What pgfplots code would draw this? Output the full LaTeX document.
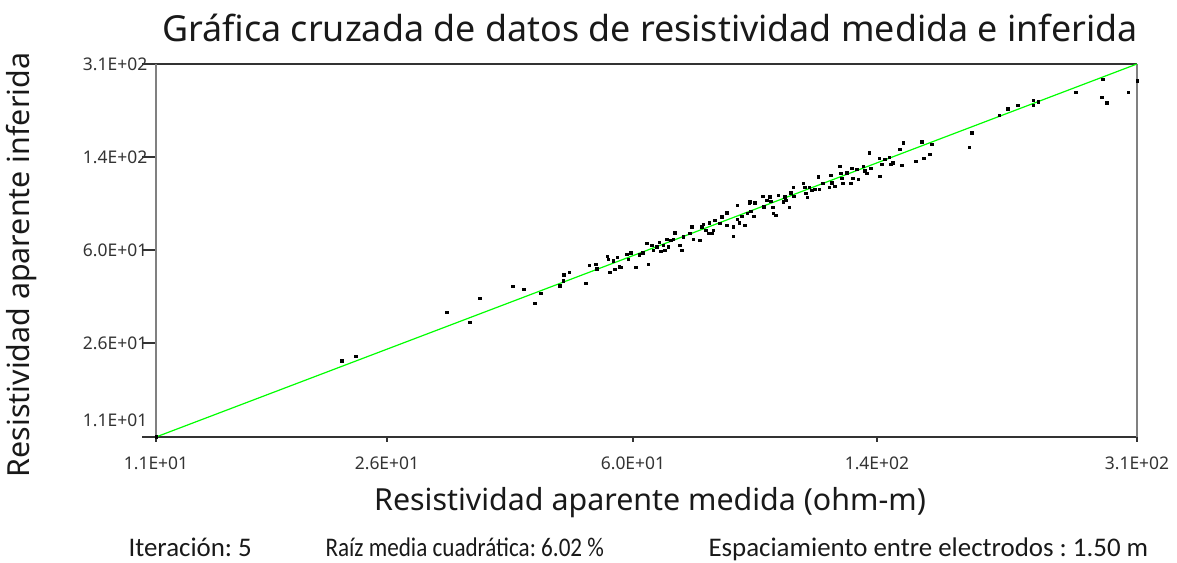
\documentclass[border=0pt]{standalone}
\usepackage{pgfplots}
\pgfplotsset{compat=1.18}
\usepackage{pgfplotstable}
\usepackage{fontspec}
\setmainfont{Noto Sans}
\newfontfamily\calib{Carlito}
\frenchspacing
\definecolor{fitgreen}{RGB}{0,255,0}
\definecolor{axgray}{RGB}{128,128,128}
\definecolor{axdark}{RGB}{51,51,51}
% log10 of apparent resistivity (ohm-m): measured (lx), inferred (ly)
\pgfplotstableread{
lx ly
1.0414 1.0414
1.3158 1.3380
1.3370 1.3562
1.4715 1.5273
1.5055 1.4884
1.5202 1.5817
1.5686 1.6283
1.5853 1.6155
1.6015 1.5622
1.6100 1.5999
1.6385 1.6295
1.6434 1.6489
1.6444 1.6722
1.6522 1.6816
1.6769 1.6388
1.6818 1.7088
1.6917 1.7138
1.6927 1.6956
1.7084 1.7449
1.7099 1.7321
1.7124 1.6827
1.7173 1.7267
1.7198 1.6932
1.7232 1.7399
1.7261 1.7033
1.7291 1.7010
1.7371 1.7527
1.7394 1.7321
1.7430 1.7578
1.7508 1.7010
1.7557 1.7500
1.7607 1.7578
1.7666 1.7943
1.7690 1.7138
1.7740 1.7865
1.7764 1.7683
1.7814 1.7811
1.7852 1.7994
1.7873 1.7632
1.7912 1.7865
1.7937 1.7683
1.7962 1.8098
1.7985 1.7811
1.8021 1.8071
1.8059 1.8098
1.8084 1.8355
1.8158 1.7865
1.8183 1.7683
1.8207 1.8199
1.8306 1.8332
1.8331 1.8588
1.8355 1.8098
1.8454 1.8071
1.8479 1.8588
1.8503 1.8693
1.8543 1.8460
1.8577 1.8332
1.8591 1.8744
1.8627 1.8332
1.8651 1.8460
1.8676 1.8849
1.8750 1.8720
1.8775 1.8977
1.8849 1.9132
1.8849 1.8654
1.8946 1.8227
1.8946 1.8588
1.9005 1.8876
1.9005 1.9432
1.9035 1.8744
1.9070 1.9004
1.9119 1.8654
1.9153 1.9109
1.9183 1.9521
1.9208 1.9198
1.9252 1.9004
1.9193 1.9560
1.9267 1.9521
1.9381 1.9782
1.9400 1.9366
1.9440 1.9626
1.9489 1.9754
1.9499 1.9587
1.9529 1.9342
1.9537 1.9109
1.9577 1.9043
1.9611 1.9820
1.9685 1.9560
1.9710 1.9754
1.9725 1.9626
1.9774 1.9342
1.9795 1.9910
1.9833 2.0120
1.9843 1.9782
1.9981 2.0275
2.0006 2.0120
2.0021 1.9886
2.0040 1.9731
2.0070 2.0120
2.0105 2.0015
2.0154 2.0042
2.0203 2.0532
2.0217 2.0042
2.0268 2.0275
2.0365 2.0120
2.0386 2.0598
2.0401 2.0299
2.0449 2.0170
2.0523 2.0948
2.0534 2.0664
2.0548 2.0469
2.0563 2.0275
2.0622 2.0687
2.0681 2.0275
2.0696 2.0858
2.0711 2.0469
2.0770 2.0819
2.0794 2.0431
2.0868 2.0948
2.0893 2.0765
2.0918 2.0664
2.0956 2.1465
2.0977 2.0858
2.1104 2.1247
2.1114 2.0559
2.1140 2.1025
2.1188 2.1208
2.1252 2.1286
2.1273 2.1025
2.1302 2.1076
2.1410 2.1597
2.1435 2.0986
2.1459 2.1853
2.1647 2.1142
2.1731 2.1892
2.1765 2.1247
2.1853 2.1414
2.1879 2.1803
2.2434 2.1675
2.2470 2.2242
2.2878 2.2930
2.3002 2.3175
2.3150 2.3319
2.3380 2.3513
2.3380 2.3319
2.3454 2.3447
2.4011 2.3812
2.4391 2.3618
2.4406 2.4329
2.4470 2.3408
2.4784 2.3812
2.4914 2.4263
}\datatable

\begin{document}
\begin{tikzpicture}[x=1bp,y=1bp]
\path[use as bounding box] (-156,-126) rectangle (1021,437);
\begin{axis}[
  at={(0,0)}, anchor=south west,
  scale only axis, width=981bp, height=373bp,
  xmin=1.0414, xmax=2.4914, ymin=1.0414, ymax=2.4914,
  separate axis lines,
  x axis line style={axdark, line width=1.4bp},
  y axis line style={axgray, line width=1.8bp},
  xtick={1.0414,1.3828,1.7464,2.1070,2.4914},
  xticklabels={1.1E+01,2.6E+01,6.0E+01,1.4E+02,3.1E+02},
  ytick={1.0414,1.4068,1.7683,2.1297,2.4914},
  yticklabels={\raisebox{10bp}[0pt][0pt]{1.1E+01},2.6E+01,6.0E+01,1.4E+02,3.1E+02},
  tick align=outside, xtick pos=bottom, ytick pos=left,
  xtick style={axdark, line width=1.2bp, /pgfplots/major tick length=5bp},
  ytick style={axdark, line width=1.2bp, /pgfplots/major tick length=14bp},
  ticklabel style={font=\fontsize{17.5}{20}\selectfont, text=axdark},
  xticklabel style={yshift=-12bp},
  yticklabel style={xshift=-1bp},
  clip=false,
]
\addplot[fitgreen, line width=1.2bp] coordinates {(1.0414,1.0414) (2.4914,2.4914)};
\addplot[only marks, mark=square*, mark size=1.3bp, black] table[x=lx,y=ly]{\datatable};
\end{axis}
\node[font=\fontsize{36}{42}\selectfont, text=black!90] at (494,409) {Gráfica cruzada de datos de resistividad medida e inferida};
\node[font=\fontsize{30.5}{36}\selectfont, text=black!90] at (494,-66) {Resistividad aparente medida (ohm-m)};
\node[font=\fontsize{30.5}{36}\selectfont, text=black!90, rotate=90] at (-134,172) {Resistividad aparente inferida};
\node[font=\calib\fontsize{27}{30}\selectfont, anchor=base west, text=black!90] at (-31,-120) {Iteración: 5};
\node[font=\calib\fontsize{27}{30}\selectfont, anchor=base west, text=black!90] at (166,-120) {\scalebox{0.86}[1]{Raíz media cuadrática: 6.02 \%}};
\node[font=\calib\fontsize{27}{30}\selectfont, anchor=base west, text=black!90] at (549,-120) {Espaciamiento entre electrodos : 1.50 m};
\end{tikzpicture}
\end{document}
